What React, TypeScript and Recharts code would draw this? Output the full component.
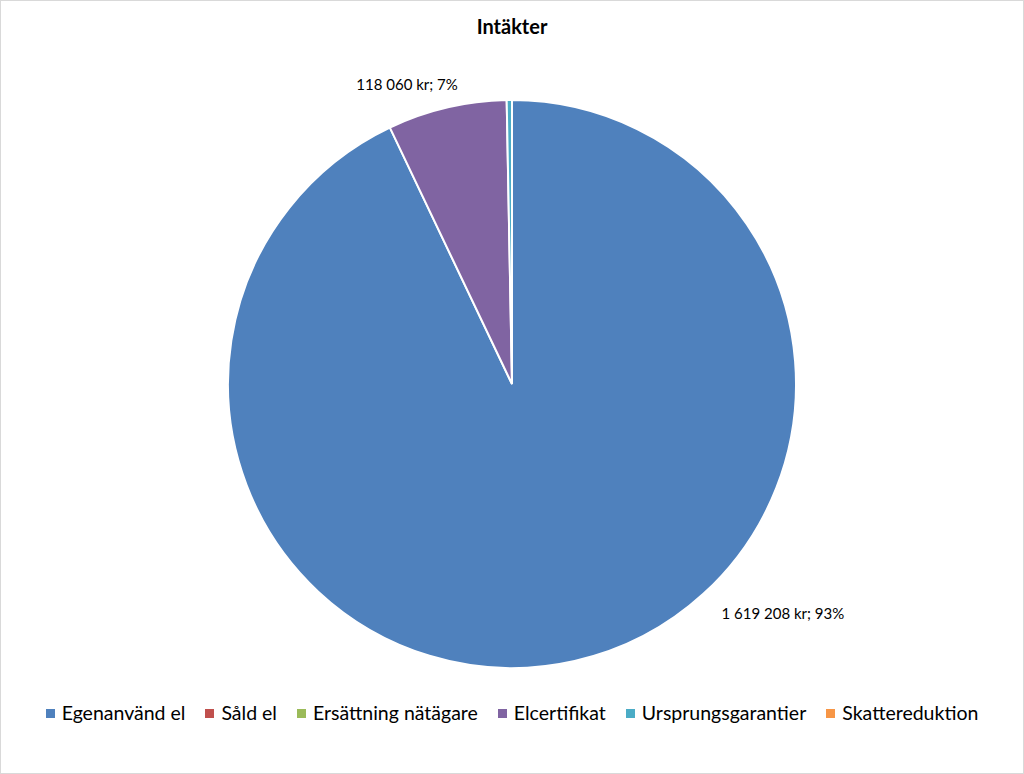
import React from 'react'
import { PieChart, Pie, Cell } from 'recharts';

const categories = ['Egenanvänd el', 'Såld el', 'Ersättning nätägare', 'Elcertifikat', 'Ursprungsgarantier', 'Skattereduktion'];
const values = [1619208, 0, 0, 118060, 5200, 0];
const colors = ['#4F81BD', '#C0504D', '#9BBB59', '#8064A2', '#4BACC6', '#F79646'];

const data = categories.map((name, i) => ({ name, value: values[i] }));

const FONT = 'Lato, "Open Sans", sans-serif';
const RADIAN = Math.PI / 180;

const formatKr = (v: number): string =>
  String(v).replace(/\B(?=(\d{3})+(?!\d))/g, ' ') + ' kr';

// Excel "best fit" puts the two labels away from the slice middle
const labelShift: { [key: number]: { angle: number; dist: number } } = {
  0: { angle: 37, dist: 71 },
  3: { angle: 6, dist: 34 },
};

const renderLabel = (props: any) => {
  const { cx, cy, midAngle, outerRadius, index, value, percent } = props;
  const shift = labelShift[index];
  if (!shift || !value) return null;
  const a = (midAngle + shift.angle) * RADIAN;
  const r = outerRadius + shift.dist;
  const x = cx + r * Math.cos(a);
  const y = cy - r * Math.sin(a);
  return (
    <text x={x} y={y} textAnchor="middle" dominantBaseline="central" fill="#000" fontSize={15} fontFamily={FONT}>
      {`${formatKr(value)}; ${Math.round(percent * 100)}%`}
    </text>
  );
};

const ChartLegend = () => (
  <div style={{ position: 'absolute', top: 698, left: 0, width: 1022, display: 'flex', justifyContent: 'center', fontFamily: FONT, fontSize: 19.5, color: '#000', lineHeight: '28px' }}>
    {categories.map((name, i) => (
      <div key={name} style={{ display: 'flex', alignItems: 'center', marginRight: i < categories.length - 1 ? 20 : 0 }}>
        <span style={{ display: 'inline-block', width: 9, height: 9, background: colors[i], marginRight: 7 }} />
        <span>{name}</span>
      </div>
    ))}
  </div>
);

const App = () => {
  return (
    <div style={{ position: 'absolute', left: 0, top: 0, width: 1022, height: 772, border: '1px solid #d9d9d9', background: '#fff' }}>
      <div style={{ position: 'absolute', top: 13, width: '100%', textAlign: 'center', fontFamily: FONT, fontWeight: 'bold', fontSize: 20, color: '#000' }}>
        Intäkter
      </div>
      <PieChart width={1022} height={772} margin={{ top: 0, right: 0, bottom: 0, left: 0 }}>
        <Pie
          data={data}
          dataKey="value"
          nameKey="name"
          cx={511}
          cy={383}
          outerRadius={284}
          startAngle={90}
          endAngle={-270}
          stroke="#fff"
          strokeWidth={2}
          label={renderLabel}
          labelLine={false}
          isAnimationActive={false}
        >
          {data.map((entry, i) => (
            <Cell key={entry.name} fill={colors[i]} />
          ))}
        </Pie>
      </PieChart>
      <ChartLegend />
    </div>
  );
};

export default App
